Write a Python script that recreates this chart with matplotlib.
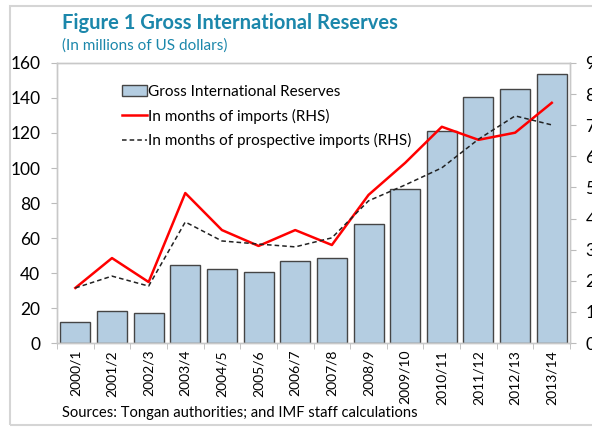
import matplotlib.pyplot as plt
import matplotlib.patches as mpatches
from matplotlib.lines import Line2D
import numpy as np

plt.rcParams['font.family'] = ['Lato', 'DejaVu Sans']

years = ['2000/1', '2001/2', '2002/3', '2003/4', '2004/5', '2005/6', '2006/7',
         '2007/8', '2008/9', '2009/10', '2010/11', '2011/12', '2012/13', '2013/14']
reserves = [12, 18.3, 17, 44.6, 42.3, 40.6, 47, 48.6, 68, 88, 121, 140.6, 145, 153.7]
months_imports = [1.77, 2.73, 1.96, 4.82, 3.63, 3.12, 3.63, 3.15, 4.76, 5.79, 6.95, 6.53, 6.76, 7.72]
months_prospective = [1.77, 2.15, 1.83, 3.89, 3.28, 3.18, 3.09, 3.38, 4.57, 5.08, 5.63, 6.55, 7.3, 7.01]

teal = '#1b87ab'
x = np.arange(len(years))

fig = plt.figure(figsize=(5.92, 4.30), dpi=100)
ax = fig.add_axes([0.0963, 0.2023, 0.8667, 0.6512])

ax.bar(x, reserves, width=0.82, color='#b4cde1', edgecolor='#454545', linewidth=1.0, zorder=2)
ax.set_xlim(-0.5, len(years) - 0.5)
ax.set_ylim(0, 160)
ax.set_yticks(range(0, 161, 20))
ax.set_xticks(x)
ax.set_xticklabels(years, rotation=90, fontsize=10)
ax.tick_params(axis='x', length=0, pad=5)
ax.set_xticks(np.arange(-0.5, len(years), 1), minor=True)
ax.tick_params(axis='x', which='minor', length=4, color='#bbbbbb', direction='out')
ax.tick_params(axis='y', labelsize=12.5, length=4, color='#bbbbbb', pad=8)

ax2 = ax.twinx()
ax2.plot(x, months_imports, color='#ff0000', linewidth=1.8, zorder=3)
ax2.plot(x, months_prospective, color='#222222', linewidth=1.1, linestyle=(0, (3, 2)), zorder=3)
ax2.set_ylim(0, 9)
ax2.set_yticks(range(0, 10))
ax2.tick_params(axis='y', labelsize=12.5, length=4, color='#bbbbbb', pad=7)

for a in (ax, ax2):
    for s in a.spines.values():
        s.set_color('#c8c8c8')
        s.set_linewidth(1.0)

handles = [
    mpatches.Patch(facecolor='#b4cde1', edgecolor='#454545', linewidth=1.0),
    Line2D([], [], color='#ff0000', linewidth=1.8),
    Line2D([], [], color='#222222', linewidth=1.1, linestyle=(0, (3, 2))),
]
labels = ['Gross International Reserves', 'In months of imports (RHS)',
          'In months of prospective imports (RHS)']
ax2.legend(handles, labels, loc='upper left', bbox_to_anchor=(0.1, 0.97), frameon=False,
           fontsize=11, handlelength=1.6, handletextpad=0.1, labelspacing=0.62)

fig.text(0.105, 0.947, 'Figure 1 Gross International Reserves', color=teal,
         fontsize=14.5, fontweight='bold', va='center')
fig.text(0.105, 0.893, '(In millions of US dollars)', color=teal, fontsize=11, va='center')
fig.text(0.105, 0.04, 'Sources: Tongan authorities; and IMF staff calculations',
         fontsize=10.6, va='center')

fig.patches.append(mpatches.Rectangle((0.017, 0.012), 1.2, 0.975, transform=fig.transFigure,
                                      fill=False, edgecolor='#d5d5d5', linewidth=1.5))

fig.savefig('out.png', dpi=100)
